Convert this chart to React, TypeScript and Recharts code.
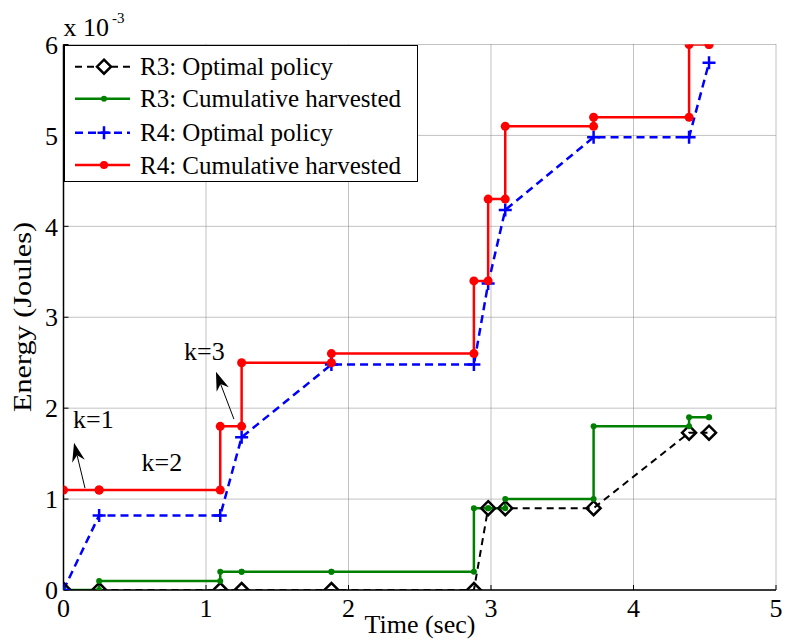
import React from "react";
import {
  LineChart,
  Line,
  XAxis,
  YAxis,
  CartesianGrid,
  Legend,
  ReferenceDot,
  ReferenceLine,
} from "recharts";

const FONT = "Liberation Serif, Times New Roman, serif";

// slot boundaries (sec)
const times = [0, 0.25, 1.1, 1.25, 1.88, 2.88, 2.98, 3.1, 3.72, 4.39, 4.53];
// energy in units of 1e-3 J
const r3Policy = [0, 0, 0, 0, 0, 0, 0.9, 0.9, 0.9, 1.73, 1.73];
const r3Harvested = [0, 0.1, 0.2, 0.2, 0.2, 0.9, 0.9, 1.0, 1.8, 1.9, 1.9];
const r4Policy = [0, 0.82, 0.82, 1.68, 2.48, 2.48, 3.37, 4.18, 4.98, 4.98, 5.8];
const r4Harvested = [1.1, 1.1, 1.8, 2.5, 2.6, 3.4, 4.3, 5.1, 5.2, 6.0, 6.0];

const xTicks = [0, 1, 2, 3, 4, 5];
const yTicks = [0, 1, 2, 3, 4, 5, 6];

const legendLabels = [
  "R3: Optimal policy",
  "R3: Cumulative harvested",
  "R4: Optimal policy",
  "R4: Cumulative harvested",
];

const notes = [
  { text: "k=1", x: 0.067, y: 1.78 },
  { text: "k=2", x: 0.548, y: 1.31 },
  { text: "k=3", x: 0.846, y: 2.53 },
];

const arrows = [
  { from: { x: 0.151, y: 1.12 }, to: { x: 0.074, y: 1.62 } },
  { from: { x: 1.196, y: 1.88 }, to: { x: 1.07, y: 2.4 } },
];

// cumulative curves are staircases: jump at each slot boundary
function stairs(values: number[]) {
  const pts: { t: number; e: number }[] = [];
  values.forEach((v, i) => {
    if (i > 0) pts.push({ t: times[i], e: values[i - 1] });
    pts.push({ t: times[i], e: v });
  });
  return pts;
}

function points(values: number[]) {
  return times.map((t, i) => ({ t, e: values[i] }));
}

const r3PolicyData = points(r3Policy);
const r3HarvData = stairs(r3Harvested);
const r4PolicyData = points(r4Policy);
const r4HarvData = stairs(r4Harvested);

const diamondPath = (cx: number, cy: number, s: number) =>
  `M${cx},${cy - s}L${cx + s},${cy}L${cx},${cy + s}L${cx - s},${cy}Z`;
const plusPath = (cx: number, cy: number, s: number) =>
  `M${cx - s},${cy}H${cx + s}M${cx},${cy - s}V${cy + s}`;

const renderDiamond = (p: any) => (
  <path
    key={`dm-${p.index}`}
    d={diamondPath(p.cx, p.cy, 7)}
    fill="none"
    stroke="#000"
    strokeWidth={2.5}
  />
);
const renderPlus = (p: any) => (
  <path
    key={`pl-${p.index}`}
    d={plusPath(p.cx, p.cy, 6.5)}
    fill="none"
    stroke="#0000ff"
    strokeWidth={2.5}
  />
);
const dotRenderer = (color: string, r: number) => (p: any) => (
  <circle key={`dt-${p.index}`} cx={p.cx} cy={p.cy} r={r} fill={color} stroke="none" />
);

const Arrow = (p: any) => {
  const { x1, y1, x2, y2 } = p;
  const dx = x2 - x1;
  const dy = y2 - y1;
  const len = Math.hypot(dx, dy) || 1;
  const ux = dx / len;
  const uy = dy / len;
  const nx = -uy;
  const ny = ux;
  const head = 19;
  const notch = 13;
  const w = 6.5;
  const bx = x2 - ux * head;
  const by = y2 - uy * head;
  const mx = x2 - ux * notch;
  const my = y2 - uy * notch;
  return (
    <g>
      <line x1={x1} y1={y1} x2={mx} y2={my} stroke="#000" strokeWidth={1} />
      <polygon
        points={`${x2},${y2} ${bx + nx * w},${by + ny * w} ${mx},${my} ${bx - nx * w},${by - ny * w}`}
        fill="#000"
      />
    </g>
  );
};

const LegendBox = () => {
  const rowY = [20.7, 52.7, 86.7, 119];
  return (
    <div
      style={{
        width: 354,
        height: 137,
        border: "1.5px solid #000",
        background: "#fff",
        boxSizing: "border-box",
      }}
    >
      <svg width={352} height={134} style={{ display: "block" }}>
        {rowY.map((y, i) => (
          <g key={legendLabels[i]}>
            {i === 0 && (
              <>
                <line x1={10} x2={65} y1={y} y2={y} stroke="#000" strokeWidth={2} strokeDasharray="7 5" />
                <path d={diamondPath(39, y, 7)} fill="#fff" stroke="#000" strokeWidth={2.5} />
              </>
            )}
            {i === 1 && (
              <>
                <line x1={10} x2={65} y1={y} y2={y} stroke="#008000" strokeWidth={2.5} />
                <circle cx={39} cy={y} r={3} fill="#008000" />
              </>
            )}
            {i === 2 && (
              <>
                <line x1={10} x2={65} y1={y} y2={y} stroke="#0000ff" strokeWidth={2.5} strokeDasharray="8 5" />
                <path d={plusPath(39, y, 6.5)} stroke="#0000ff" strokeWidth={2.5} fill="none" />
              </>
            )}
            {i === 3 && (
              <>
                <line x1={10} x2={65} y1={y} y2={y} stroke="#ff0000" strokeWidth={2.5} />
                <circle cx={39} cy={y} r={4} fill="#ff0000" />
              </>
            )}
            <text x={75} y={y + 8.5} fontSize={25} fontFamily={FONT} fill="#000">
              {legendLabels[i]}
            </text>
          </g>
        ))}
      </svg>
    </div>
  );
};

const tickStyle = { fontSize: 26, fontFamily: FONT, fill: "#000" };

export default function App() {
  return (
    <div style={{ position: "absolute", left: 0, top: 0, background: "#fff", fontFamily: FONT }}>
      <LineChart
        width={785}
        height={643}
        margin={{ top: 44.5, right: 9, bottom: 23, left: 4 }}
      >
        <CartesianGrid stroke="#858585" strokeDasharray="1 1" />
        <XAxis
          dataKey="t"
          type="number"
          domain={[0, 5]}
          ticks={xTicks}
          allowDataOverflow
          height={30}
          tick={tickStyle}
          tickSize={-5}
          tickMargin={13.5}
          axisLine={{ stroke: "#000", strokeWidth: 1.5 }}
          tickLine={{ stroke: "#000" }}
          label={{
            content: () => (
              <text x={420} y={633} textAnchor="middle" fontSize={26} fontFamily={FONT} fill="#000">
                Time (sec)
              </text>
            ),
          }}
        />
        <XAxis
          xAxisId="top"
          orientation="top"
          type="number"
          domain={[0, 5]}
          ticks={xTicks}
          height={0}
          tick={false}
          tickSize={-5}
          axisLine={{ stroke: "#000", strokeWidth: 1.5 }}
          tickLine={{ stroke: "#000" }}
        />
        <YAxis
          type="number"
          domain={[0, 6]}
          ticks={yTicks}
          allowDataOverflow
          width={59.5}
          tick={tickStyle}
          tickSize={-5}
          tickMargin={10.5}
          axisLine={{ stroke: "#000", strokeWidth: 1.5 }}
          tickLine={{ stroke: "#000" }}
          label={{
            content: () => (
              <text
                x={31}
                y={317}
                transform="rotate(-90 31 317)"
                textAnchor="middle"
                fontSize={26}
                fontFamily={FONT}
                fill="#000"
                textLength={190}
                lengthAdjust="spacingAndGlyphs"
              >
                Energy (Joules)
              </text>
            ),
          }}
        />
        <YAxis
          yAxisId="right"
          orientation="right"
          type="number"
          domain={[0, 6]}
          ticks={yTicks}
          width={0}
          tick={false}
          tickSize={-5}
          axisLine={{ stroke: "#000", strokeWidth: 1.5 }}
          tickLine={{ stroke: "#000" }}
        />
        <Legend
          layout="vertical"
          align="center"
          verticalAlign="middle"
          content={() => <LegendBox />}
          wrapperStyle={{ left: 63.5, top: 44.5, width: 354, height: 137 }}
        />
        <Line
          data={r3PolicyData}
          dataKey="e"
          stroke="#000"
          strokeWidth={2}
          strokeDasharray="7 5"
          dot={renderDiamond}
          activeDot={false}
          isAnimationActive={false}
        />
        <Line
          data={r3HarvData}
          dataKey="e"
          stroke="#008000"
          strokeWidth={2.5}
          dot={dotRenderer("#008000", 3)}
          activeDot={false}
          isAnimationActive={false}
        />
        <Line
          data={r4PolicyData}
          dataKey="e"
          stroke="#0000ff"
          strokeWidth={2.5}
          strokeDasharray="8 5"
          dot={renderPlus}
          activeDot={false}
          isAnimationActive={false}
        />
        <Line
          data={r4HarvData}
          dataKey="e"
          stroke="#ff0000"
          strokeWidth={2.5}
          dot={dotRenderer("#ff0000", 4.5)}
          activeDot={false}
          isAnimationActive={false}
        />
        {arrows.map((a, i) => (
          <ReferenceLine
            key={`arrow-${i}`}
            segment={[a.from, a.to]}
            ifOverflow="visible"
            shape={Arrow}
          />
        ))}
        {notes.map((n) => (
          <ReferenceDot
            key={n.text}
            x={n.x}
            y={n.y}
            r={0}
            ifOverflow="visible"
            shape={(p: any) => (
              <text x={p.cx} y={p.cy} fontSize={26} fontFamily={FONT} fill="#000">
                {n.text}
              </text>
            )}
          />
        ))}
        <ReferenceDot
          x={0}
          y={6}
          r={0}
          ifOverflow="visible"
          shape={(p: any) => (
            <text x={p.cx} y={p.cy - 8.5} fontSize={26} fontFamily={FONT} fill="#000">
              x 10
              <tspan fontSize={15} dx={3} dy={-13}>
                -3
              </tspan>
            </text>
          )}
        />
      </LineChart>
    </div>
  );
}
